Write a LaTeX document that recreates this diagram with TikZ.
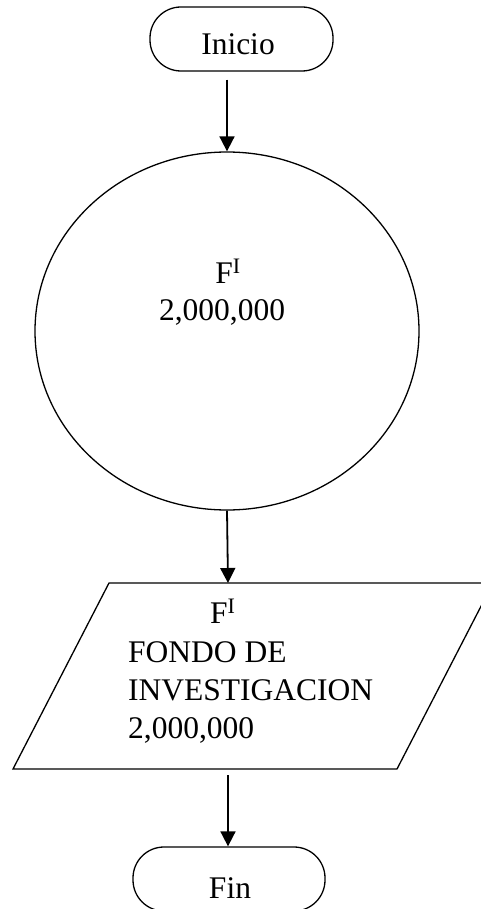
\documentclass[tikz,border=0pt]{standalone}
\usepackage{fontspec}
\setmainfont{Liberation Serif}
\usetikzlibrary{arrows.meta,shapes.geometric}
\begin{document}
\begin{tikzpicture}[x=1pt,y=-1pt,
  shapeline/.style={draw=black,line width=1.3pt},
  term/.style={shapeline,rectangle,rounded corners=31pt,inner sep=0pt},
  txt/.style={inner sep=0pt,anchor=base,font=\fontsize{31.5}{38}\selectfont},
  txtl/.style={inner sep=0pt,anchor=base west,font=\fontsize{31.5}{38}\selectfont},
  arr/.style={line width=1.8pt,-{Triangle[length=15pt,width=15pt]}}]
\useasboundingbox (0,0) rectangle (481,909);
% Inicio
\node[term,minimum width=183pt,minimum height=64pt] (inicio) at (241.5,39) {};
\node[txt] (tinicio) at (238,55) {Inicio};
% circle
\node[shapeline,ellipse,inner sep=0pt,minimum width=384pt,minimum height=358pt] (circ) at (227,331) {};
\node[txt] (c1) at (228,283) {F\textsuperscript{I}};
\node[txt] (c2) at (222,320) {2,000,000};
% parallelogram
\coordinate (p1) at (109,583);
\coordinate (p2) at (493,583);
\coordinate (p3) at (397,769);
\coordinate (p4) at (13,769);
\draw[shapeline,line join=miter] (p1) -- (p2) -- (p3) -- (p4) -- cycle;
\coordinate (ptop) at (228,583);
\coordinate (pbot) at (228,775);
\node[txtl] (q1) at (210,623) {F\textsuperscript{I}};
\node[txtl] (q2) at (128,662) {FONDO DE};
\node[txtl] (q3) at (128,700) {INVESTIGACION};
\node[txtl] (q4) at (128,738) {2,000,000};
% Fin
\node[term,minimum width=192pt,minimum height=64pt] (fin) at (229,879) {};
\node[txt] (tfin) at (230,898) {Fin};
% connectors
\draw[arr] ([yshift=-8pt]inicio.south -| circ.north) -- (circ.north);
\draw[arr] (circ.south) -- (ptop);
\draw[arr] (pbot) -- (pbot |- fin.north);
\end{tikzpicture}
\end{document}
